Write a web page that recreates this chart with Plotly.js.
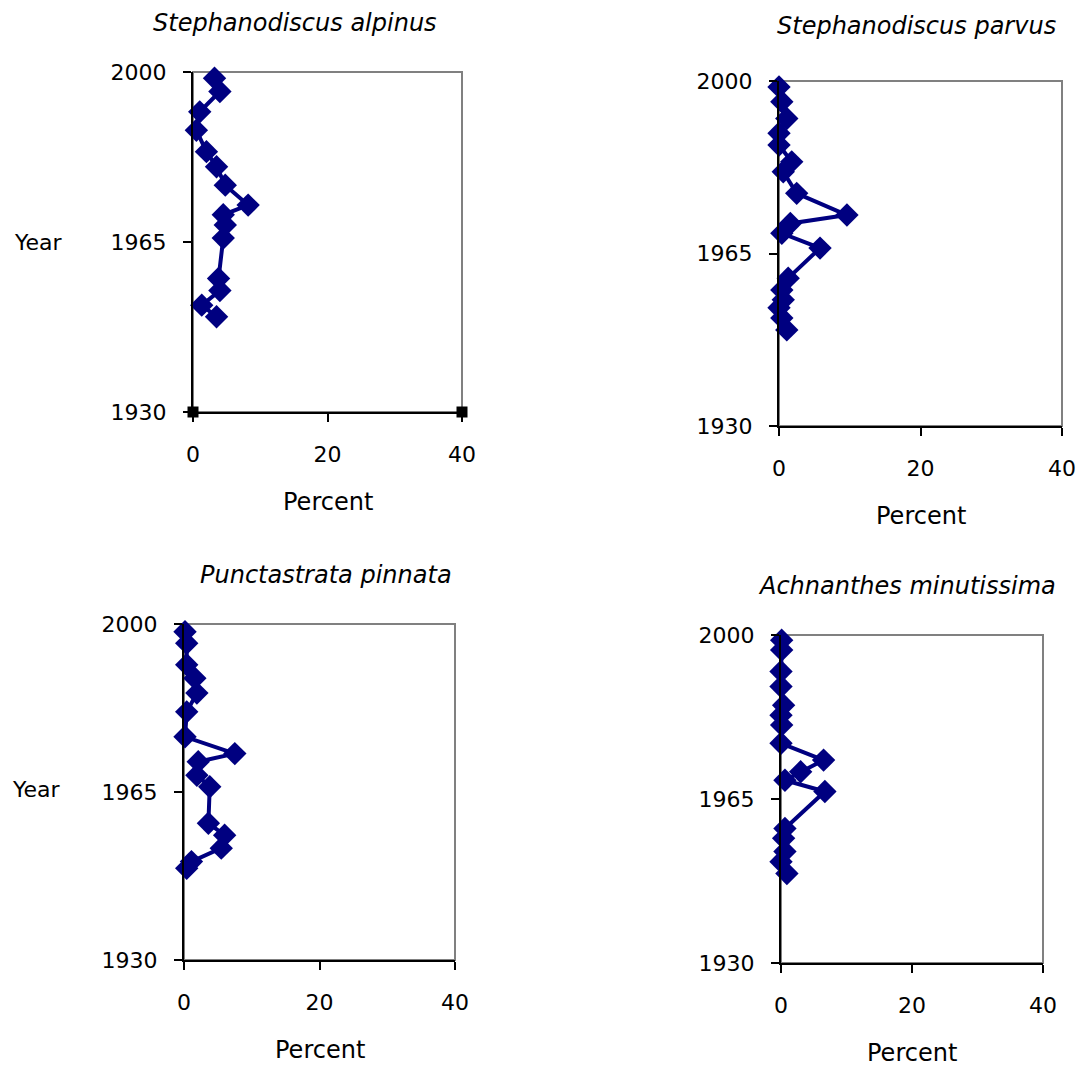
<!DOCTYPE html>
<html>
<head>
<meta charset="utf-8">
<script src="https://cdn.plot.ly/plotly-3.0.1.min.js"></script>
<style>html,body{margin:0;padding:0;background:#fff;}#chart{width:1080px;height:1073px;}</style>
</head>
<body>
<div id="chart"></div>
<script>
// Panel titles
const titles = ["Stephanodiscus alpinus", "Stephanodiscus parvus", "Punctastrata pinnata", "Achnanthes minutissima"];
const yTickVals = [1930, 1965, 2000];
const xTickVals = [0, 20, 40];
const xAxisTitle = "Percent";
const yAxisTitle = "Year";

// Stephanodiscus alpinus
const alpinusPct  = [3.2, 4.0, 1.0, 0.5, 2.0, 3.5, 4.8, 8.2, 4.5, 4.8, 4.5, 3.8, 4.0, 1.3, 3.5];
const alpinusYear = [1998.7, 1996, 1991.8, 1988, 1983.6, 1980.5, 1976.7, 1972.6, 1970.6, 1968.5, 1965.8, 1957.5, 1955, 1952, 1949.6];
// helper points drawn as black squares on the axis (panel 1 only)
const alpinusHelperPct  = [0, 40];
const alpinusHelperYear = [1930, 1930];

// Stephanodiscus parvus
const parvusPct  = [0, 0.4, 1.1, 0, 0, 1.8, 0.6, 2.5, 9.6, 1.6, 0.4, 5.8, 1.3, 0.4, 0.6, 0, 0.4, 1.1];
const parvusYear = [1998.8, 1995.8, 1992.4, 1989.4, 1987, 1983.6, 1981.6, 1977.2, 1972.8, 1971.1, 1969.1, 1966.1, 1960, 1957.6, 1955.6, 1954, 1951.9, 1949.5];

// Punctastrata pinnata
const pinnataPct  = [0.15, 0.4, 0.4, 1.6, 1.9, 0.4, 0.15, 7.5, 2.1, 1.9, 3.8, 3.6, 6.0, 5.5, 1.1, 0.4];
const pinnataYear = [1998.4, 1996, 1991.5, 1988.7, 1985.6, 1981.7, 1976.5, 1973, 1971.3, 1968.5, 1966.1, 1958.5, 1956, 1953.3, 1950.5, 1949.1];

// Achnanthes minutissima
const minutissimaPct  = [0.1, 0.1, 0, 0, 0.4, 0, 0.1, 0, 6.5, 3.0, 0.6, 6.7, 0.6, 0.4, 0.6, 0, 0.9];
const minutissimaYear = [1998.9, 1996.8, 1992.2, 1989, 1985, 1982.9, 1980.8, 1976.9, 1973.3, 1970.8, 1969, 1966.6, 1958.7, 1956.6, 1953.8, 1951.6, 1949.1];

const W = 1080, H = 1073;
const NAVY = '#000080';
const FONT = 'DejaVu Sans, Arial, sans-serif';

// pixel boxes of the four plot areas [left, right, top, bottom]
const boxes = [
  [193, 462, 72, 412],
  [779, 1062, 81, 426],
  [184, 455, 624, 960],
  [781, 1043, 635, 963]
];
// title centres in pixels [x, y]
const titlePos = [[295, 23], [916, 26], [326, 575], [907, 586]];

const seriesX = [alpinusPct, parvusPct, pinnataPct, minutissimaPct];
const seriesY = [alpinusYear, parvusYear, pinnataYear, minutissimaYear];

const data = [];
const layout = {
  width: W, height: H,
  margin: {l: 0, r: 0, t: 0, b: 0},
  paper_bgcolor: '#fff', plot_bgcolor: '#fff',
  showlegend: false,
  font: {family: FONT, size: 22, color: '#000'},
  shapes: [], annotations: []
};

for (let i = 0; i < 4; i++) {
  const n = i === 0 ? '' : String(i + 1);
  const b = boxes[i];
  const xa = 'xaxis' + n, ya = 'yaxis' + n;
  layout[xa] = {
    domain: [b[0] / W, b[1] / W], range: [0, 40], anchor: 'y' + n,
    tickvals: xTickVals, ticks: 'outside', ticklen: 8, tickwidth: 2, tickcolor: '#000',
    showline: true, linecolor: '#000', linewidth: 2, showgrid: false, zeroline: false,
    ticklabelstandoff: 14, tickfont: {family: FONT, size: 22, color: '#000'}, fixedrange: true
  };
  layout[ya] = {
    domain: [1 - b[3] / H, 1 - b[2] / H], range: [1930, 2000], anchor: 'x' + n,
    tickvals: yTickVals, ticks: 'outside', ticklen: 8, tickwidth: 2, tickcolor: '#000',
    showline: true, linecolor: '#000', linewidth: 2, showgrid: false, zeroline: false,
    ticklabelstandoff: 12, tickfont: {family: FONT, size: 22, color: '#000'}, fixedrange: true
  };
  layout.shapes.push({
    type: 'rect', xref: 'x' + n + ' domain', yref: 'y' + n + ' domain',
    x0: 0, x1: 1, y0: 0, y1: 1, line: {color: '#808080', width: 2}, layer: 'below'
  });
  data.push({
    type: 'scatter', mode: 'lines+markers', x: seriesX[i], y: seriesY[i],
    xaxis: 'x' + n, yaxis: 'y' + n, cliponaxis: false,
    line: {color: NAVY, width: 4},
    marker: {symbol: 'diamond', size: 18, color: NAVY}
  });
  // panel title
  layout.annotations.push({
    xref: 'paper', yref: 'paper', x: titlePos[i][0] / W, y: 1 - titlePos[i][1] / H,
    text: '<i>' + titles[i] + '</i>', showarrow: false, xanchor: 'center', yanchor: 'middle',
    font: {family: FONT, size: 24, color: '#000'}
  });
  // x axis title
  layout.annotations.push({
    xref: 'paper', yref: 'paper', x: ((b[0] + b[1]) / 2) / W, y: 1 - (b[3] + 90) / H,
    text: xAxisTitle, showarrow: false, xanchor: 'center', yanchor: 'middle',
    font: {family: FONT, size: 24, color: '#000'}
  });
}
// y axis titles (left column only)
layout.annotations.push({xref: 'paper', yref: 'paper', x: 38 / W, y: 1 - 242 / H, text: yAxisTitle,
  showarrow: false, xanchor: 'center', yanchor: 'middle', font: {family: FONT, size: 22, color: '#000'}});
layout.annotations.push({xref: 'paper', yref: 'paper', x: 36 / W, y: 1 - 789 / H, text: yAxisTitle,
  showarrow: false, xanchor: 'center', yanchor: 'middle', font: {family: FONT, size: 22, color: '#000'}});

// helper squares in panel 1
data.push({
  type: 'scatter', mode: 'markers', x: alpinusHelperPct, y: alpinusHelperYear,
  xaxis: 'x', yaxis: 'y', cliponaxis: false,
  marker: {symbol: 'square', size: 11, color: '#000'}
});

Plotly.newPlot('chart', data, layout, {staticPlot: true});
</script>
</body>
</html>
